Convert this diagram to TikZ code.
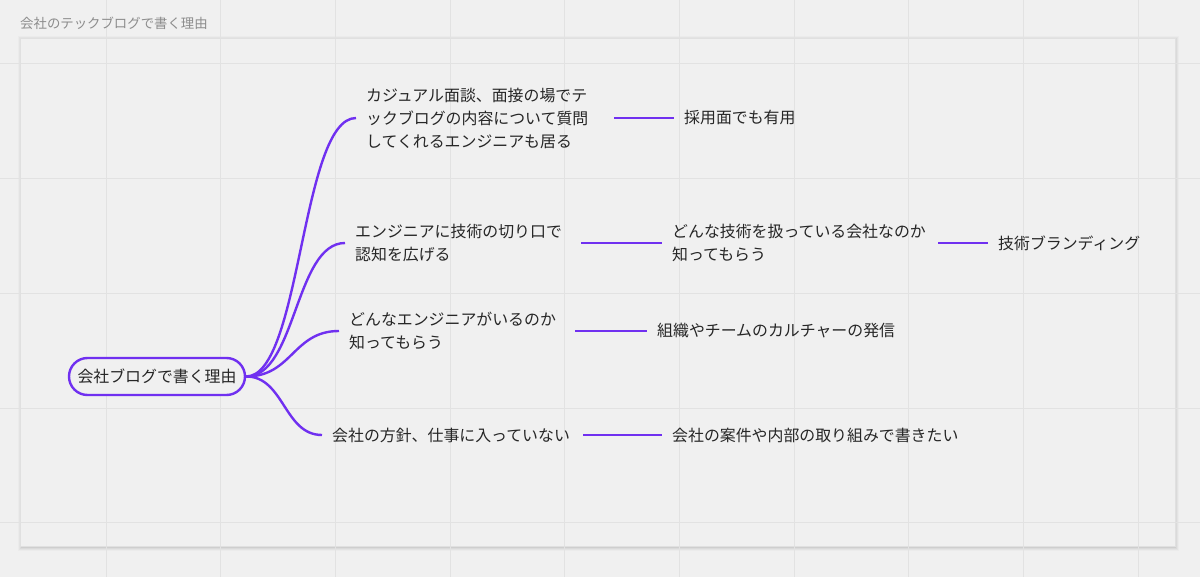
\documentclass[tikz,border=0pt]{standalone}
\usepackage{fontspec}
\setmainfont{Noto Sans CJK JP}
\definecolor{bg}{HTML}{F0F0F0}
\definecolor{gridc}{HTML}{E2E2E2}
\definecolor{mm}{HTML}{7030F0}
\definecolor{txt}{HTML}{262626}
\definecolor{ttl}{HTML}{8C8C8C}
\begin{document}
\begin{tikzpicture}[x=1pt,y=-1pt,
  conn/.style={draw=mm, line width=2.4pt},
  topic/.style={anchor=west, inner xsep=10pt, inner ysep=2pt, align=left, text=txt,
    font=\fontsize{15.9pt}{23pt}\selectfont},
  rootbox/.style={draw=mm, line width=2.4pt, rounded corners=18.5pt, minimum width=176pt,
    minimum height=37pt, fill=bg, text=txt, inner sep=0pt, font=\fontsize{15.9pt}{23pt}\selectfont},
  titlestyle/.style={anchor=west, inner sep=0pt, text=ttl, font=\fontsize{13.4pt}{16pt}\selectfont}
]
\fill[bg] (0,0) rectangle (1200,577);
\useasboundingbox (0,0) rectangle (1200,577);
% frame shadow (soft, mostly below and right)
\foreach \s/\o in {4/0.02,3/0.03,2/0.04,1/0.05}
  \fill[black,opacity=\o] ({20-\s+1.5},{38-\s+2}) rectangle ({1175+\s},{546+\s+1});
\fill[bg] (20,38) rectangle (1175,546);
% grid
\foreach \i in {0,...,9} \draw[gridc, line width=1pt] ({106+114.7*\i},0) -- ++(0,577);
\foreach \j in {0,...,4} \draw[gridc, line width=1pt] (0,{64+114.7*\j}) -- ++(1200,0);
% frame
\draw[black!12, line width=0.7pt] (20,38) rectangle (1175,546);
% title
\node[titlestyle] (title) at (20,23) {会社のテックブログで書く理由};
% nodes
\node[rootbox] (root) at (157,376.5) {会社ブログで書く理由};
\node[topic, text width=238pt] (a1) at (356,118) {カジュアル面談、面接の場でテ\\ックブログの内容について質問\\してくれるエンジニアも居る};
\node[topic] (a2) at (674,118) {採用面でも有用};
\node[topic, text width=216pt] (b1) at (345,243) {エンジニアに技術の切り口で\\認知を広げる};
\node[topic, text width=256pt] (b2) at (662,243) {どんな技術を扱っている会社なのか\\知ってもらう};
\node[topic] (b3) at (988,243) {技術ブランディング};
\node[topic, text width=216pt] (c1) at (339,331) {どんなエンジニアがいるのか\\知ってもらう};
\node[topic] (c2) at (647,331) {組織やチームのカルチャーの発信};
\node[topic, text width=241pt] (d1) at (322,435) {会社の方針、仕事に入っていない};
\node[topic] (d2) at (662,435) {会社の案件や内部の取り組みで書きたい};
% connectors
\draw[conn] (root.east) .. controls +(55,0) and +(-55,0) .. (a1.west);
\draw[conn] (root.east) .. controls +(50,0) and +(-50,0) .. (b1.west);
\draw[conn] (root.east) .. controls +(46,0) and +(-46,0) .. (c1.west);
\draw[conn] (root.east) .. controls +(38,0) and +(-38,0) .. (d1.west);
\draw[conn] (a1.east) -- (a2.west);
\draw[conn] (b1.east) -- (b2.west);
\draw[conn] (b2.east) -- (b3.west);
\draw[conn] (c1.east) -- (c2.west);
\draw[conn] (d1.east) -- (d2.west);
\end{tikzpicture}
\end{document}
